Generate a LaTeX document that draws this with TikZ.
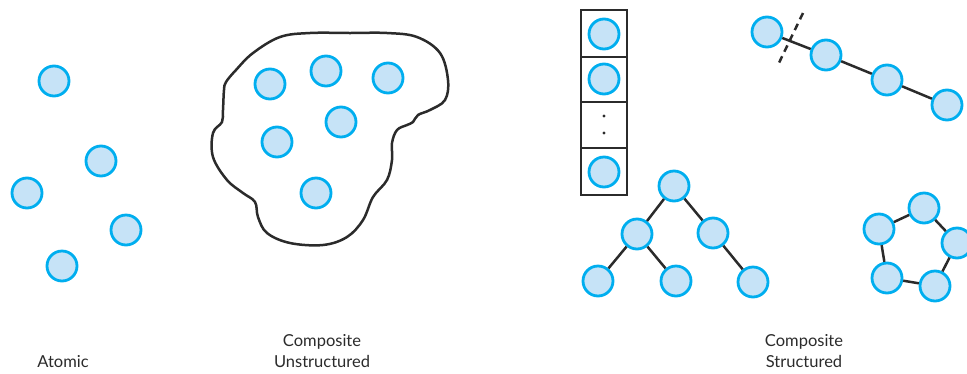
\documentclass[tikz,border=0pt]{standalone}
\usepackage{fontspec}
\setmainfont{Lato}
\begin{document}
\begin{tikzpicture}[x=1pt,y=-1pt,
  ball/.style={circle,draw=ballline,fill=ballfill,line width=2.8pt,minimum size=30pt,inner sep=0pt},
  link/.style={draw=ink,line width=2.5pt},
  lbl/.style={text=ink,font=\fontsize{16.5}{21}\selectfont,align=center}]
\definecolor{ballline}{HTML}{00AEEF}
\definecolor{ballfill}{HTML}{C6E3F7}
\definecolor{ink}{HTML}{2B2B2B}
\useasboundingbox (0,0) rectangle (967,373);
\clip (0,0) rectangle (967,373);
% Atomic
\node[ball] (a1) at (54,81) {};
\node[ball] (a2) at (101,161) {};
\node[ball] (a3) at (27,193) {};
\node[ball] (a4) at (126,230) {};
\node[ball] (a5) at (62,266) {};
% Unstructured blob
\draw[ink,line width=2.5pt] plot[smooth cycle,tension=0.6] coordinates {
 (226,82) (236,70) (253,53) (280,37) (310,33) (350,33) (387,33) (417,37) (440,53)
 (448,80) (445,100) (430,110) (418,115) (413,122) (407,125) (397,130)
 (392,143) (392,160) (387,180) (373,197) (363,220) (347,237) (323,245)
 (290,243) (267,233) (258,217) (255,202) (243,193) (227,180) (213,157)
 (213,133) (222,122) (223,110) (224,90)};
\node[ball] (u1) at (270,84) {};
\node[ball] (u2) at (326,71) {};
\node[ball] (u3) at (388,78) {};
\node[ball] (u4) at (277,142) {};
\node[ball] (u5) at (341,122) {};
\node[ball] (u6) at (316,193) {};
% Stack
\draw[ink,line width=2.8pt] (581,10) rectangle (627,195);
\draw[ink,line width=2.8pt] (581,57) -- (627,57);
\draw[ink,line width=2.8pt] (581,102) -- (627,102);
\draw[ink,line width=2.8pt] (581,148) -- (627,148);
\node[ball] (s1) at (604,34) {};
\node[ball] (s2) at (604,79) {};
\node[ball] (s3) at (604,172) {};
\fill[ink] (604,116) circle (1.7pt) (604,133) circle (1.7pt);
% Linked list
\node[ball] (l1) at (767,32) {};
\node[ball] (l2) at (826,55) {};
\node[ball] (l3) at (887,80) {};
\node[ball] (l4) at (947,105) {};
\coordinate (d1) at (803,13);
\coordinate (d2) at (777,67);
\draw[link] (l1) -- (l2);
\draw[link] (l2) -- (l3);
\draw[link] (l3) -- (l4);
\draw[ink,line width=2.5pt,dash pattern=on 7pt off 5pt] (d1) -- (d2);
% Tree
\node[ball] (t0) at (674,186) {};
\node[ball] (t1) at (637,234) {};
\node[ball] (t2) at (713,233) {};
\node[ball] (t3) at (598,281) {};
\node[ball] (t4) at (676,281) {};
\node[ball] (t5) at (753,282) {};
\draw[link] (t0) -- (t1);
\draw[link] (t0) -- (t2);
\draw[link] (t1) -- (t3);
\draw[link] (t1) -- (t4);
\draw[link] (t2) -- (t5);
% Ring
\node[ball] (r1) at (924,208) {};
\node[ball] (r2) at (879,229) {};
\node[ball] (r3) at (957,243) {};
\node[ball] (r4) at (887,278) {};
\node[ball] (r5) at (935,286) {};
\draw[link] (r1) -- (r2);
\draw[link] (r1) -- (r3);
\draw[link] (r3) -- (r5);
\draw[link] (r5) -- (r4);
\draw[link] (r4) -- (r2);
% Labels
\node[lbl] (la) at (63,362) {Atomic};
\node[lbl] (lu) at (322,351) {Composite\\Unstructured};
\node[lbl] (ls) at (804,351) {Composite\\Structured};
\end{tikzpicture}
\end{document}
